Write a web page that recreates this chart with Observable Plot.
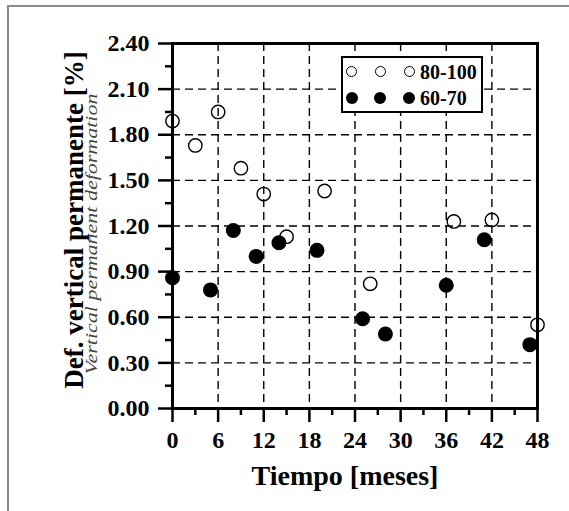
<!DOCTYPE html>
<html>
<head>
<meta charset="utf-8">
<script src="https://cdn.jsdelivr.net/npm/d3@7"></script>
<script src="https://cdn.jsdelivr.net/npm/@observablehq/plot@0.6"></script>
<style>
  html, body { margin: 0; padding: 0; background: #fff; }
  #wrap { position: relative; width: 569px; height: 511px; overflow: hidden; font-family: "Liberation Serif", "Times New Roman", serif; }
  #borderTop { position: absolute; left: 8px; top: 5px; width: 561px; height: 2px; background: #8a8a8a; }
  #borderLeft { position: absolute; left: 7px; top: 5px; width: 2px; height: 506px; background: #8a8a8a; }
  #legend { position: absolute; left: 341px; top: 56px; width: 138px; height: 53px; border: 2px solid #000; background: #fff; }
  .sym { position: absolute; border-radius: 50%; box-sizing: border-box; }
  .open { width: 11px; height: 11px; border: 1.3px solid #000; background: transparent; }
  .fill { width: 12px; height: 12px; background: #000; }
  .lab { position: absolute; left: 77px; font-size: 20px; font-weight: bold; line-height: 20px; }
</style>
</head>
<body>
<div id="wrap">
  <div id="chart"></div>
  <div id="borderTop"></div>
  <div id="borderLeft"></div>
  <div id="legend"></div>
</div>
<script>
// ---- data ----
const seriesNames = ["80-100", "60-70"];
const months80 = [0, 3, 6, 9, 12, 15, 20, 26, 37, 42, 48];
const def80 = [1.89, 1.73, 1.95, 1.58, 1.41, 1.13, 1.43, 0.82, 1.23, 1.24, 0.55];
const months60 = [0, 5, 8, 11, 14, 19, 25, 28, 36, 41, 47];
const def60 = [0.86, 0.78, 1.17, 1.00, 1.09, 1.04, 0.59, 0.49, 0.81, 1.11, 0.42];
const xTicks = [0, 6, 12, 18, 24, 30, 36, 42, 48];
const xMinorTicks = [3, 9, 15, 21, 27, 33, 39, 45];
const yTicks = [0, 0.3, 0.6, 0.9, 1.2, 1.5, 1.8, 2.1, 2.4];
const yMinorTicks = [0.15, 0.45, 0.75, 1.05, 1.35, 1.65, 1.95, 2.25];
const xTitle = "Tiempo [meses]";
const yTitle = "Def. vertical permanente [%]";
const ySubtitle = "Vertical permanent deformation";

const data80 = months80.map((m, i) => ({month: m, def: def80[i]}));
const data60 = months60.map((m, i) => ({month: m, def: def60[i]}));
const xGrid = xTicks.slice(1, -1);
const yGrid = yTicks.slice(1, -1);

const FONT = "Liberation Serif, Times New Roman, serif";

const chart = Plot.plot({
  width: 569,
  height: 511,
  marginTop: 43,
  marginRight: 32,
  marginBottom: 103,
  marginLeft: 172,
  style: {fontFamily: FONT, background: "transparent", color: "#000"},
  x: {domain: [0, 48], label: null},
  y: {domain: [0, 2.4], label: null},
  marks: [
    Plot.gridX(xGrid, {stroke: "#000", strokeOpacity: 1, strokeWidth: 1.4, strokeDasharray: "8,5"}),
    Plot.gridY(yGrid, {stroke: "#000", strokeOpacity: 1, strokeWidth: 1.4, strokeDasharray: "8,5"}),
    Plot.dot(data80, {x: "month", y: "def", r: 6.7, stroke: "#000", strokeWidth: 1.4, fill: "none"}),
    Plot.dot(data60, {x: "month", y: "def", r: 7.5, fill: "#000", stroke: "none"}),
    Plot.axisX(xTicks, {anchor: "bottom", tickSize: 14, tickPadding: 8, strokeWidth: 2.5,
      fontSize: 24, fontWeight: "bold", label: null}),
    Plot.axisX(xMinorTicks, {anchor: "bottom", tickSize: 7, strokeWidth: 2.5, tickFormat: () => "", label: null}),
    Plot.axisY(yTicks, {anchor: "left", tickSize: 14, tickPadding: 9, strokeWidth: 2.5,
      fontSize: 24, fontWeight: "bold", tickFormat: d3.format(".2f"), label: null}),
    Plot.axisY(yMinorTicks, {anchor: "left", tickSize: 7, strokeWidth: 2.5, tickFormat: () => "", label: null}),
    Plot.frame({stroke: "#000", strokeWidth: 3}),
    Plot.text([xTitle], {frameAnchor: "bottom", text: d => d, dy: 76, dx: -10,
      fontSize: 28, fontWeight: "bold", fill: "#000"}),
    Plot.text([yTitle], {frameAnchor: "left", text: d => d, rotate: -90, textAnchor: "middle",
      dx: -98, dy: -6, fontSize: 27, fontWeight: "bold", fill: "#000"}),
    Plot.text([ySubtitle], {frameAnchor: "left", text: d => d, rotate: -90, textAnchor: "middle",
      dx: -81, dy: 8, fontSize: 22, fontStyle: "italic", fontFamily: FONT, fill: "#444", className: "subtitle"})
  ]
});
document.getElementById("chart").appendChild(chart);

// squeeze the italic subtitle across its height as in the reference
d3.select(chart).selectAll(".subtitle text").each(function() {
  const t = this.getAttribute("transform") || "";
  this.setAttribute("transform", t + " scale(1,0.72)");
});

// legend
const legend = d3.select("#legend");
const rowY = [15.7, 41.7];
const symX = [10.7, 39, 68];
seriesNames.forEach((name, i) => {
  symX.forEach(cx => {
    const s = i === 0 ? 11 : 12;
    legend.append("div").attr("class", "sym " + (i === 0 ? "open" : "fill"))
      .style("left", (cx - s / 2 - 2) + "px").style("top", (rowY[i] - s / 2 - 2) + "px");
  });
  legend.append("div").attr("class", "lab").text(name)
    .style("top", (rowY[i] - 10 - 2) + "px");
});
</script>
</body>
</html>
